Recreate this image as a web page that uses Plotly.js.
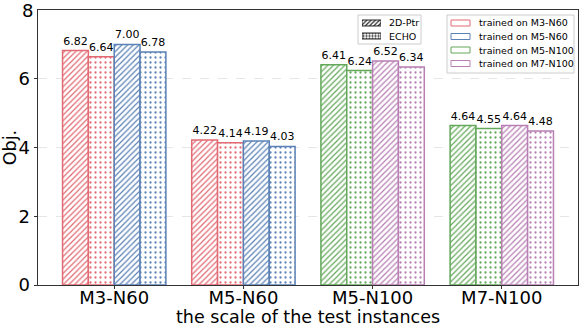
<!DOCTYPE html>
<html>
<head>
<meta charset="utf-8">
<script src="https://cdn.plot.ly/plotly-3.0.1.min.js"></script>
<style>body{margin:0}</style>
</head>
<body>
<div id="plotArea" style="width:583px;height:330px"></div>
<script>
var scales = ["M3-N60", "M5-N60", "M5-N100", "M7-N100"];
// bar slot values, left to right inside each group
var ptrA = [6.82, 4.22, 6.41, 4.64];
var echoA = [6.64, 4.14, 6.24, 4.55];
var ptrB = [7.00, 4.19, 6.52, 4.64];
var echoB = [6.78, 4.03, 6.34, 4.48];
var trainNames = ["trained on M3-N60", "trained on M5-N60", "trained on M5-N100", "trained on M7-N100"];
var methodNames = ["2D-Ptr", "ECHO"];
var yTicks = [0, 2, 4, 6, 8];

var red = "#e26a73", blue = "#5b82b6", green = "#63a85a", pink = "#b87fb4";
var colA = [red, red, green, green];
var colB = [blue, blue, pink, pink];
var trainCols = [red, blue, green, pink];

function barTrace(vals, cols, shape, offset) {
    return {
        x: scales, y: vals, type: "bar",
        width: 0.2, offset: offset,
        marker: {
            color: "white",
            line: {color: cols, width: 1.5},
            pattern: {shape: shape, fgcolor: cols, bgcolor: "white",
                      size: shape == "/" ? 4 : 5, solidity: shape == "/" ? 0.3 : 0.16}
        },
        texttemplate: "%{y:.2f}", textposition: "outside",
        textfont: {size: 11, color: "black"}, constraintext: "none",
        cliponaxis: false, showlegend: false, hoverinfo: "skip"
    };
}

var data = [
    barTrace(ptrA, colA, "/", -0.4),
    barTrace(echoA, colA, ".", -0.2),
    barTrace(ptrB, colB, "/", 0),
    barTrace(echoB, colB, ".", 0.2)
];

// pixel -> paper helpers (plot area 38..578 x 10..285)
function px(x) { return (x - 38) / 540; }
function py(y) { return (285 - y) / 275; }

// pattern swatches for the method legend, on a small hidden axis pair
data.push({
    type: "bar", orientation: "h", xaxis: "x2", yaxis: "y2",
    y: methodNames, x: [1, 1], width: 0.46,
    marker: {color: "white", line: {color: "#222", width: 1},
             pattern: {shape: ["/", "."], fgcolor: "#222", bgcolor: "white", size: 3, solidity: 0.4}},
    showlegend: false, hoverinfo: "skip"
});

var shapes = [
    {type: "rect", xref: "paper", yref: "paper", x0: px(358), x1: px(421), y0: py(44), y1: py(15),
     line: {color: "#cccccc", width: 1}, fillcolor: "white", layer: "below"},
    {type: "rect", xref: "paper", yref: "paper", x0: px(447), x1: px(574), y0: py(73), y1: py(15),
     line: {color: "#cccccc", width: 1}, fillcolor: "white", layer: "below"}
];
var annotations = [
    {xref: "paper", yref: "paper", x: 0.5, y: py(317), xanchor: "center", yanchor: "middle",
     text: "the scale of the test instances", showarrow: false, font: {size: 17.5, color: "black"}},
    // top tick label sits at the div edge, plotly drops it
    {xref: "paper", yref: "y", x: px(35), y: yTicks[yTicks.length - 1], xanchor: "right", yanchor: "middle",
     text: String(yTicks[yTicks.length - 1]), showarrow: false, font: {size: 18, color: "black"}}
];
var rows1 = [23, 36];
methodNames.forEach(function(name, i) {
    annotations.push({xref: "paper", yref: "paper", x: px(387), y: py(rows1[i]), xanchor: "left", yanchor: "middle",
                      text: name, showarrow: false, font: {size: 9.5, color: "black"}});
});
var rows2 = [23, 36.5, 50, 63.5];
trainNames.forEach(function(name, i) {
    shapes.push({type: "rect", xref: "paper", yref: "paper", x0: px(451), x1: px(470),
                 y0: py(rows2[i] + 3), y1: py(rows2[i] - 3), line: {color: trainCols[i], width: 1}, fillcolor: "white"});
    annotations.push({xref: "paper", yref: "paper", x: px(477), y: py(rows2[i]), xanchor: "left", yanchor: "middle",
                      text: name, showarrow: false, font: {size: 9.5, color: "black"}});
});

var layout = {
    width: 583, height: 330,
    margin: {l: 38, r: 5, t: 10, b: 45},
    font: {family: "DejaVu Sans", color: "black"},
    barmode: "overlay",
    plot_bgcolor: "white",
    showlegend: false,
    xaxis: {
        range: [-0.59, 3.59], showline: true, mirror: true, linecolor: "#333", linewidth: 1,
        ticks: "outside", ticklen: 3, tickcolor: "#333", tickfont: {size: 18}, ticklabelstandoff: -7
    },
    yaxis: {
        range: [0, 8], tickvals: yTicks.slice(0, -1), showline: true, mirror: true, linecolor: "#333", linewidth: 1,
        ticks: "outside", ticklen: 3.5, tickcolor: "#333", tickfont: {size: 18},
        showgrid: true, gridcolor: "#e6e6e6", griddash: "dash", gridwidth: 0.8, zeroline: false,
        title: {text: "Obj.", font: {size: 17.5}, standoff: 0}
    },
    xaxis2: {domain: [px(362), px(381)], range: [0, 1], anchor: "y2", visible: false, fixedrange: true},
    yaxis2: {domain: [py(42.5), py(16.5)], range: [1.5, -0.5], anchor: "x2", visible: false, fixedrange: true},
    shapes: shapes,
    annotations: annotations
};

Plotly.newPlot("plotArea", data, layout, {displayModeBar: false});
</script>
</body>
</html>
